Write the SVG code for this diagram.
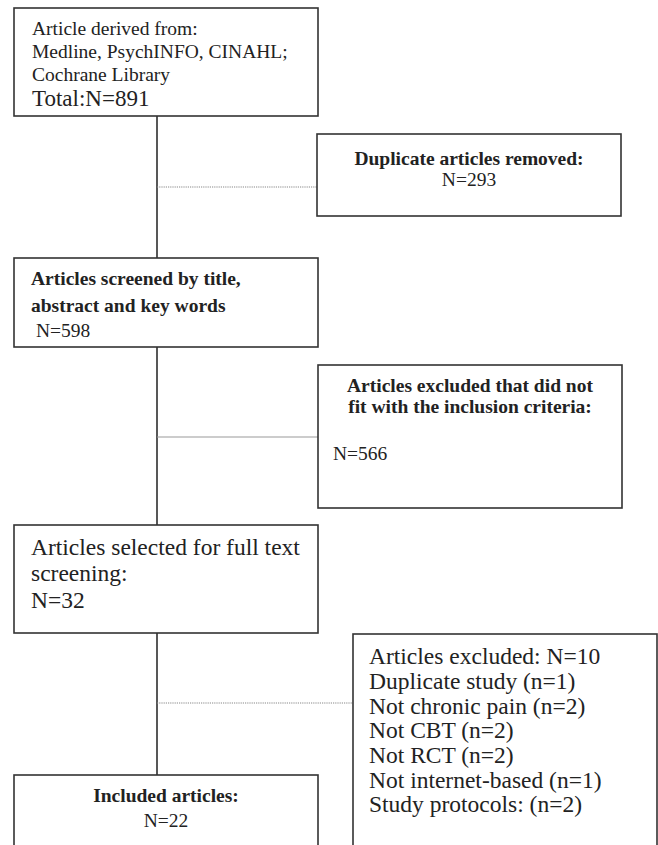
<svg xmlns="http://www.w3.org/2000/svg" width="658" height="845" viewBox="0 0 658 845">
<style>
.box{fill:#fff;stroke:#333;stroke-width:1.6}
.t{font-family:"Liberation Serif","Times New Roman",serif;fill:#222;font-size:19.5px}
.b{font-weight:bold}
.L{font-size:23.5px}
.c{text-anchor:middle}
.v{stroke:#111;stroke-width:1.4;fill:none}
.dot{stroke:#888;stroke-width:1.2;stroke-dasharray:1.2 1;fill:none}
.sol{stroke:#999;stroke-width:1;fill:none}
</style>
<rect width="658" height="845" fill="#fff"/>
<g id="connectors">
<line class="v" x1="157" y1="116" x2="157" y2="258"/>
<line class="dot" x1="157" y1="187" x2="317" y2="187"/>
<line class="v" x1="157" y1="347" x2="157" y2="525"/>
<line class="sol" x1="157" y1="437" x2="318" y2="437"/>
<line class="v" x1="157" y1="633" x2="157" y2="775"/>
<line class="dot" x1="157" y1="703" x2="353" y2="703"/>
</g>
<g id="n1">
<rect class="box" x="14" y="8" width="304" height="108"/>
<text class="t" x="32" y="35">Article derived from:</text>
<text class="t" x="32" y="58">Medline, PsychINFO, CINAHL;</text>
<text class="t" x="32" y="81">Cochrane Library</text>
<text class="t" x="32" y="106" style="font-size:23px">Total:N=891</text>
</g>
<g id="n2">
<rect class="box" x="317" y="134" width="304" height="82"/>
<text class="t b c" x="469" y="165">Duplicate articles removed:</text>
<text class="t c" x="469" y="186">N=293</text>
</g>
<g id="n3">
<rect class="box" x="14" y="258" width="304" height="89"/>
<text class="t b" x="31" y="285">Articles screened by title,</text>
<text class="t b" x="31" y="312">abstract and key words</text>
<text class="t" x="31" y="337" xml:space="preserve"> N=598</text>
</g>
<g id="n4">
<rect class="box" x="318" y="365" width="304" height="143"/>
<text class="t b c" x="470" y="392">Articles excluded that did not</text>
<text class="t b c" x="470" y="413">fit with the inclusion criteria:</text>
<text class="t" x="333" y="460">N=566</text>
</g>
<g id="n5">
<rect class="box" x="14" y="525" width="304" height="108"/>
<text class="t L" x="31" y="555">Articles selected for full text</text>
<text class="t L" x="31" y="581">screening:</text>
<text class="t L" x="31" y="608">N=32</text>
</g>
<g id="n6">
<rect class="box" x="353" y="634" width="304" height="230"/>
<text class="t L" x="369" y="664">Articles excluded: N=10</text>
<text class="t L" x="369" y="689">Duplicate study (n=1)</text>
<text class="t L" x="369" y="714">Not chronic pain (n=2)</text>
<text class="t L" x="369" y="738">Not CBT (n=2)</text>
<text class="t L" x="369" y="763">Not RCT (n=2)</text>
<text class="t L" x="369" y="788">Not internet-based (n=1)</text>
<text class="t L" x="369" y="812">Study protocols: (n=2)</text>
</g>
<g id="n7">
<rect class="box" x="14" y="775" width="304" height="90"/>
<text class="t b c" x="166" y="802">Included articles:</text>
<text class="t c" x="166" y="827">N=22</text>
</g>
</svg>
